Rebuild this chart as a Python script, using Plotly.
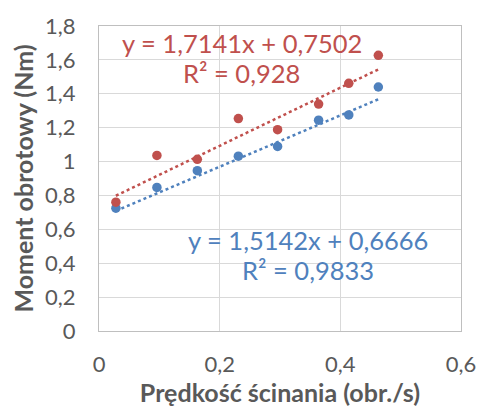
import plotly.graph_objects as go

x_vals = [0.028, 0.096, 0.163, 0.231, 0.296, 0.364, 0.414, 0.463]
y_blue = [0.725, 0.847, 0.946, 1.032, 1.089, 1.244, 1.275, 1.44]
y_red = [0.76, 1.036, 1.013, 1.254, 1.188, 1.339, 1.462, 1.627]

blue_fit = (1.5142, 0.6666)
red_fit = (1.7141, 0.7502)

x_ticks = [0, 0.2, 0.4, 0.6]
x_ticktext = ["0", "0,2", "0,4", "0,6"]
y_ticks = [0, 0.2, 0.4, 0.6, 0.8, 1.0, 1.2, 1.4, 1.6, 1.8]
y_ticktext = ["0", "0,2", "0,4", "0,6", "0,8", "1", "1,2", "1,4", "1,6", "1,8"]

BLUE = "#4F81BD"
RED = "#C0504D"
GRAY = "#595959"
FONT = "Lato"

fig = go.Figure()
xs = [min(x_vals), max(x_vals)]
fig.add_trace(go.Scatter(x=xs, y=[blue_fit[0] * v + blue_fit[1] for v in xs], mode="lines",
                         line=dict(color=BLUE, width=2.5, dash="dot"), showlegend=False))
fig.add_trace(go.Scatter(x=xs, y=[red_fit[0] * v + red_fit[1] for v in xs], mode="lines",
                         line=dict(color=RED, width=2.5, dash="dot"), showlegend=False))
fig.add_trace(go.Scatter(x=x_vals, y=y_blue, mode="markers",
                         marker=dict(color=BLUE, size=9.5), showlegend=False))
fig.add_trace(go.Scatter(x=x_vals, y=y_red, mode="markers",
                         marker=dict(color=RED, size=9.5), showlegend=False))

fig.add_annotation(x=0.237, y=1.70, xref="x", yref="y", text="y = 1,7141x + 0,7502",
                   showarrow=False, font=dict(family=FONT, size=25.5, color=RED))
fig.add_annotation(x=0.237, y=1.52, xref="x", yref="y", text="R² = 0,928",
                   showarrow=False, font=dict(family=FONT, size=25.5, color=RED))
fig.add_annotation(x=0.347, y=0.54, xref="x", yref="y", text="y = 1,5142x + 0,6666",
                   showarrow=False, font=dict(family=FONT, size=25.5, color=BLUE))
fig.add_annotation(x=0.347, y=0.36, xref="x", yref="y", text="R² = 0,9833",
                   showarrow=False, font=dict(family=FONT, size=25.5, color=BLUE))

fig.update_layout(
    width=488, height=415,
    margin=dict(l=99, r=20, t=22, b=84),
    paper_bgcolor="white", plot_bgcolor="white",
    font=dict(family=FONT, color=GRAY),
)
fig.update_xaxes(range=[0, 0.6], tickvals=x_ticks, ticktext=x_ticktext,
                 showgrid=True, gridcolor="#D9D9D9", gridwidth=1,
                 showline=True, linecolor="#BFBFBF", mirror=True, zeroline=False,
                 tickfont=dict(size=22, color=GRAY), ticklabelstandoff=14,
                 title=dict(text="<b>Prędkość ścinania (obr./s)</b>", font=dict(size=25, color=GRAY), standoff=8))
fig.update_yaxes(range=[0, 1.8], tickvals=y_ticks, ticktext=y_ticktext,
                 showgrid=True, gridcolor="#D9D9D9", gridwidth=1,
                 showline=True, linecolor="#BFBFBF", mirror=True, zeroline=False,
                 tickfont=dict(size=22, color=GRAY), ticklabelstandoff=18,
                 title=dict(text="<b>Moment obrotowy (Nm)</b>", font=dict(size=25, color=GRAY), standoff=4))

fig.write_html("out.html")
